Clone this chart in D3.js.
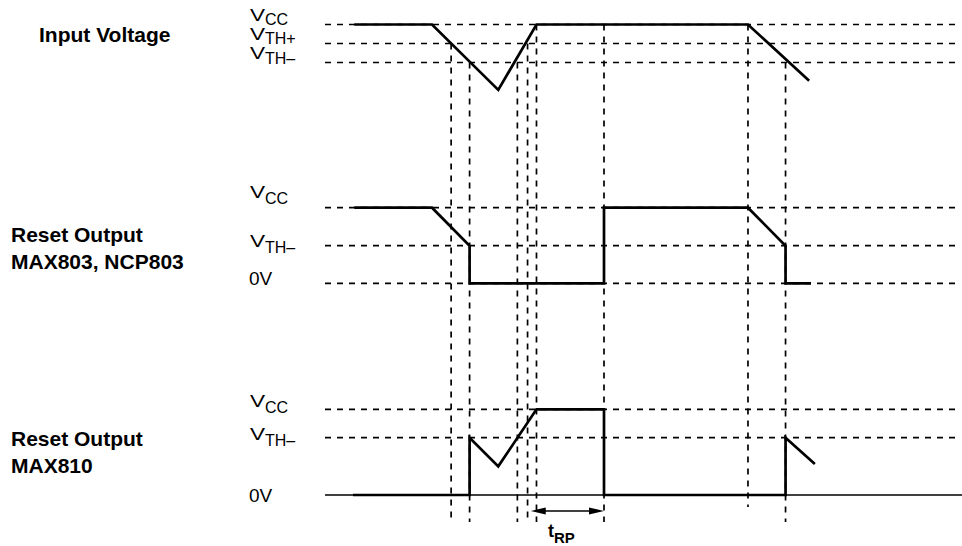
<!DOCTYPE html>
<html><head><meta charset="utf-8">
<script src="https://cdn.jsdelivr.net/npm/d3@7"></script>
<style>body{margin:0;background:#fff} svg{display:block}</style>
</head><body>
<svg id="c" width="962" height="546"></svg>
<script>
// ---------------- DATA ----------------
// time axis in arbitrary units (0..100)
const levelKeysTop = ["VCC", "VTH+", "VTH–"];
const levelVoltsTop = [5.0, 4.5, 4.0];
const levelKeysOut = ["VCC", "VTH–", "0V"];
const levelVoltsOut = [5.0, 4.0, 0.0];

const inputT = [4.6, 16.8, 27.2, 33.2, 66.4, 76.0];
const inputV = [5.0, 5.0, 3.28, 5.0, 5.0, 3.52];

const max803T = [4.6, 16.8, 22.7, 22.7, 43.8, 43.8, 66.4, 72.3, 72.3, 76.3];
const max803V = [5.0, 5.0, 4.0, 0.0, 0.0, 5.0, 5.0, 4.0, 0.0, 0.0];

const max810T = [4.4, 22.7, 22.7, 27.2, 33.2, 43.8, 43.8, 72.3, 72.3, 76.9];
const max810V = [0.0, 0.0, 4.0, 2.0, 5.0, 5.0, 0.0, 0.0, 4.0, 2.16];

const markerT = [19.8, 22.7, 30.2, 31.8, 33.2, 43.8, 66.4, 72.3];
const markerFromLevel = ["VTH+", "VTH–", "VTH–", "VTH+", "VCC", "VCC", "VCC", "VTH–"];

const tRPspan = [32.3, 43.8];
const tRPmain = "t", tRPsub = "RP";

const panelTitles = [["Input Voltage"], ["Reset Output", "MAX803, NCP803"], ["Reset Output", "MAX810"]];
const levelMain = { "VCC": "V", "VTH+": "V", "VTH–": "V", "0V": "0V" };
const levelSub  = { "VCC": "CC", "VTH+": "TH+", "VTH–": "TH–", "0V": "" };

// ---------------- LAYOUT ----------------
const svg = d3.select("#c");
const FONT = "'Liberation Sans', Arial, Helvetica, sans-serif";
const x = d3.scaleLinear().domain([0, 100]).range([325, 962]);
const yTop = d3.scaleLinear().domain([4.0, 4.5, 5.0]).range([62.5, 43.5, 24.5]);
const yMid = d3.scaleLinear().domain([0, 4.0, 5.0]).range([283.3, 245.7, 207.7]);
const yBot = d3.scaleLinear().domain([0, 4.0, 5.0]).range([495, 437.7, 409.3]);
const dashEnd = 99.7;
const DASH = "6,6";

const topVolt = k => levelVoltsTop[levelKeysTop.indexOf(k)];
const outVolt = k => levelVoltsOut[levelKeysOut.indexOf(k)];

// level label baselines (relative to line) per panel
const labelLayout = [
  { y: yTop, keys: levelKeysTop, volt: topVolt, dy: [-3.6, -3.4, -3.2], sub: 4.2 },
  { y: yMid, keys: levelKeysOut, volt: outVolt, dy: [-10, 1.5, 2], sub: 6 },
  { y: yBot, keys: levelKeysOut, volt: outVolt, dy: [-2.6, 2, 6.5], sub: 6 }
];

// horizontal dashed level lines
labelLayout.forEach((p, pi) => {
  p.keys.forEach((k, i) => {
    const yy = p.y(p.volt(k));
    if (pi === 2 && k === "0V") {
      svg.append("line").attr("x1", x(0)).attr("x2", x(100)).attr("y1", yy).attr("y2", yy)
        .attr("stroke", "#000").attr("stroke-width", 1.3);
    } else {
      svg.append("line").attr("x1", x(0)).attr("x2", x(dashEnd)).attr("y1", yy).attr("y2", yy)
        .attr("stroke", "#000").attr("stroke-width", 1.7).attr("stroke-dasharray", DASH);
    }
    const by = yy + p.dy[i];
    if (k === "0V") {
      svg.append("text").attr("x", 249).attr("y", by).attr("font-family", FONT)
        .attr("font-size", 19).attr("fill", "#000").text(levelMain[k]);
    } else {
      svg.append("text").attr("transform", `translate(250,${by}) scale(1.33,1)`)
        .attr("font-family", FONT).attr("font-size", 17).attr("fill", "#000").text(levelMain[k]);
      svg.append("text").attr("x", 265).attr("y", by + p.sub).attr("font-family", FONT)
        .attr("font-size", 16).attr("fill", "#000").text(levelSub[k]);
    }
  });
});

// vertical dashed markers
const markerBottom = [522, 522, 522, 522, 522, 522, 507, 522];
markerT.forEach((t, i) => {
  svg.append("line").attr("x1", x(t)).attr("x2", x(t))
    .attr("y1", yTop(topVolt(markerFromLevel[i]))).attr("y2", markerBottom[i])
    .attr("stroke", "#000").attr("stroke-width", 1.7).attr("stroke-dasharray", DASH);
});

// waveforms
const line = (ys) => d3.line().x(d => x(d[0])).y(d => ys(d[1]));
function wave(T, V, ys) {
  svg.append("path").attr("d", line(ys)(d3.zip(T, V)))
    .attr("fill", "none").attr("stroke", "#000").attr("stroke-width", 2.7)
    .attr("stroke-linejoin", "miter");
}
wave(inputT, inputV, yTop);
wave(max803T, max803V, yMid);
wave(max810T, max810V, yBot);

// tRP arrow
const ay = 511;
const ax1 = x(tRPspan[0]), ax2 = x(tRPspan[1]);
svg.append("line").attr("x1", ax1 + 8).attr("x2", ax2 - 8).attr("y1", ay).attr("y2", ay)
  .attr("stroke", "#000").attr("stroke-width", 1.5);
svg.append("path").attr("d", `M${ax1},${ay}L${ax1 + 15},${ay - 3.6}L${ax1 + 15},${ay + 3.6}Z`).attr("fill", "#000");
svg.append("path").attr("d", `M${ax2},${ay}L${ax2 - 15},${ay - 3.6}L${ax2 - 15},${ay + 3.6}Z`).attr("fill", "#000");
const tl = svg.append("text").attr("x", 548).attr("y", 537)
  .attr("font-family", FONT).attr("font-weight", "bold").attr("font-size", 18);
tl.append("tspan").text(tRPmain);
tl.append("tspan").attr("dy", 6).attr("font-size", 15).text(tRPsub);

// panel titles
const titleLayout = [{ x: 39, y: 41.5 }, { x: 11, y: 242 }, { x: 11, y: 446 }];
panelTitles.forEach((lines, i) => {
  const t = svg.append("text").attr("font-family", FONT).attr("font-weight", "bold")
    .attr("font-size", 21).attr("fill", "#000");
  lines.forEach((s, j) => t.append("tspan").attr("x", titleLayout[i].x)
    .attr("y", titleLayout[i].y + j * 27).text(s));
});
</script>
</body></html>
